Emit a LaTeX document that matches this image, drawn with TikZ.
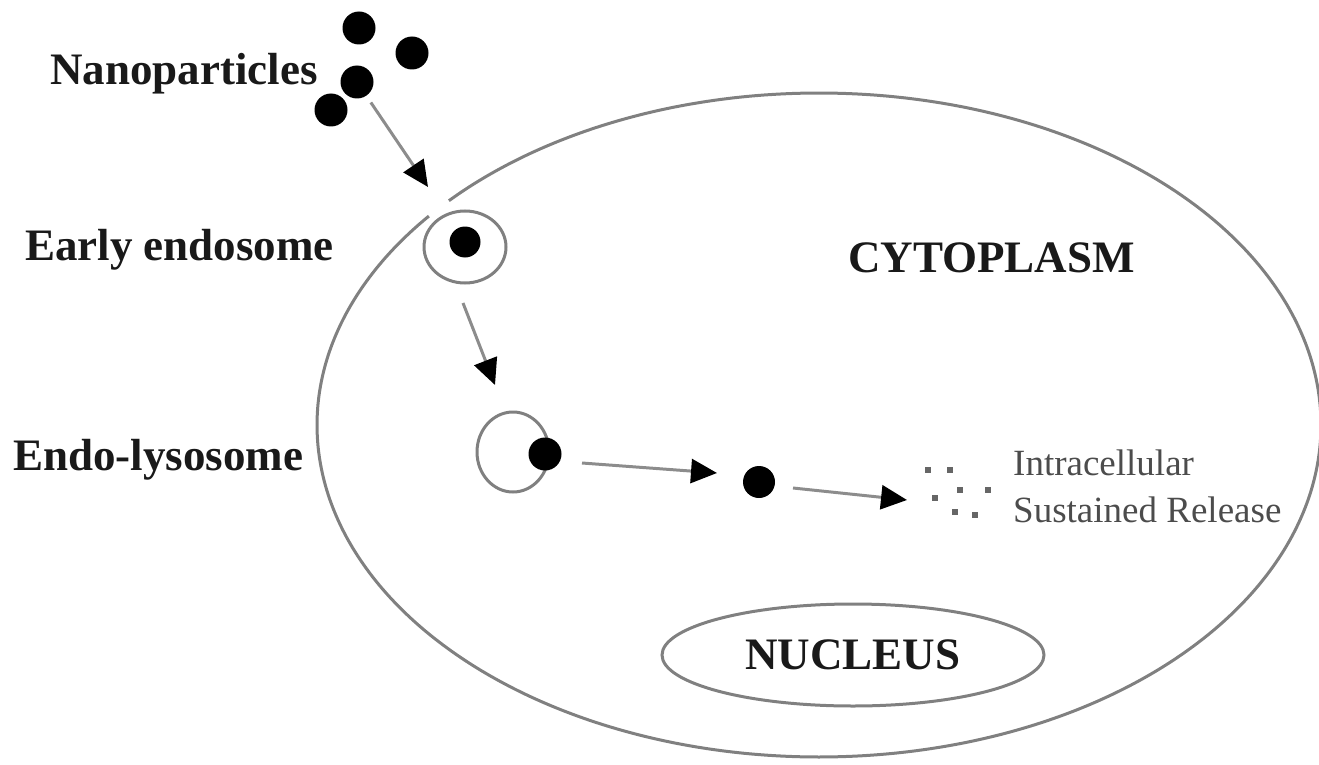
\documentclass[tikz,border=0pt]{standalone}
\usepackage{fontspec}
\setmainfont{Liberation Serif}
\usetikzlibrary{arrows.meta,shapes.geometric}
\begin{document}
\begin{tikzpicture}[x=1pt,y=-1pt,
  stagelabel/.style={font=\fontsize{45}{50}\selectfont\bfseries, inner sep=0pt, anchor=base west, text=black!90},
  releasetext/.style={font=\fontsize{37}{40}\selectfont, inner sep=0pt, anchor=base west, text=black!70},
  particle/.style={circle, fill=black, inner sep=0pt, minimum size=33pt},
  vesicle/.style={ellipse, draw=black!50, line width=3pt, inner sep=0pt},
  membrane/.style={draw=black!50, line width=3pt},
  flow/.style={draw=black!45, line width=3pt, -{Triangle[length=26pt,width=24pt,black]}},
  fragment/.style={rectangle, fill=black!60, inner sep=0pt, minimum size=6pt}]
\useasboundingbox (0,0) rectangle (1319,765);

% cell membrane, open where the early endosome buds off
\draw[membrane] plot[smooth, domain=-137.5:219, samples=200, variable=\t]
  ({819+502*cos(\t)},{425+332*sin(\t)});

% nucleus
\node[ellipse, draw=black!50, line width=3pt, minimum width=382pt, minimum height=102pt, inner sep=0pt,
      font=\fontsize{45}{50}\selectfont\bfseries, text=black!90] (nucleus) at (853,655) {NUCLEUS};

% free nanoparticles
\node[particle] (np1) at (359,28) {};
\node[particle] (np2) at (412,53) {};
\node[particle] (np3) at (357,82) {};
\node[particle] (np4) at (331,110) {};

% vesicles with their cargo
\node[vesicle, minimum width=82pt, minimum height=72pt] (early) at (465,247) {};
\node[particle, minimum size=31pt] (earlynp) at (465,242) {};
\node[vesicle, minimum width=72pt, minimum height=80pt] (lyso) at (513,452) {};
\node[particle] (lysonp) at (545,454) {};
\node[particle, minimum size=32pt] (freenp) at (759,482) {};

% released fragments
\node[fragment] (f1) at (928,470) {};
\node[fragment] (f2) at (950,470) {};
\node[fragment] (f3) at (935,498) {};
\node[fragment] (f4) at (960,490) {};
\node[fragment] (f5) at (988,490) {};
\node[fragment] (f6) at (955,512) {};
\node[fragment] (f7) at (975,515) {};

% arrow end points
\coordinate (a1end) at (428,187);
\coordinate (a2start) at (463,303);
\coordinate (a2end) at (495,385);
\coordinate (a3start) at (582,463);
\coordinate (a3end) at (717,473);
\coordinate (a4start) at (793,488);
\coordinate (a4end) at (907,500);

\draw[flow, shorten <=8pt] (np3) -- (a1end);
\draw[flow] (a2start) -- (a2end);
\draw[flow] (a3start) -- (a3end);
\draw[flow] (a4start) -- (a4end);

% labels
\node[stagelabel] (tnano) at (50,85) {Nanoparticles};
\node[stagelabel] (tearly) at (25,260) {Early endosome};
\node[stagelabel] (tlyso) at (13,470) {Endo-lysosome};
\node[stagelabel] (tcyto) at (848,272) {CYTOPLASM};
\node[releasetext] (trel1) at (1013,475) {Intracellular};
\node[releasetext] (trel2) at (1013,522) {Sustained Release};
\end{tikzpicture}
\end{document}
